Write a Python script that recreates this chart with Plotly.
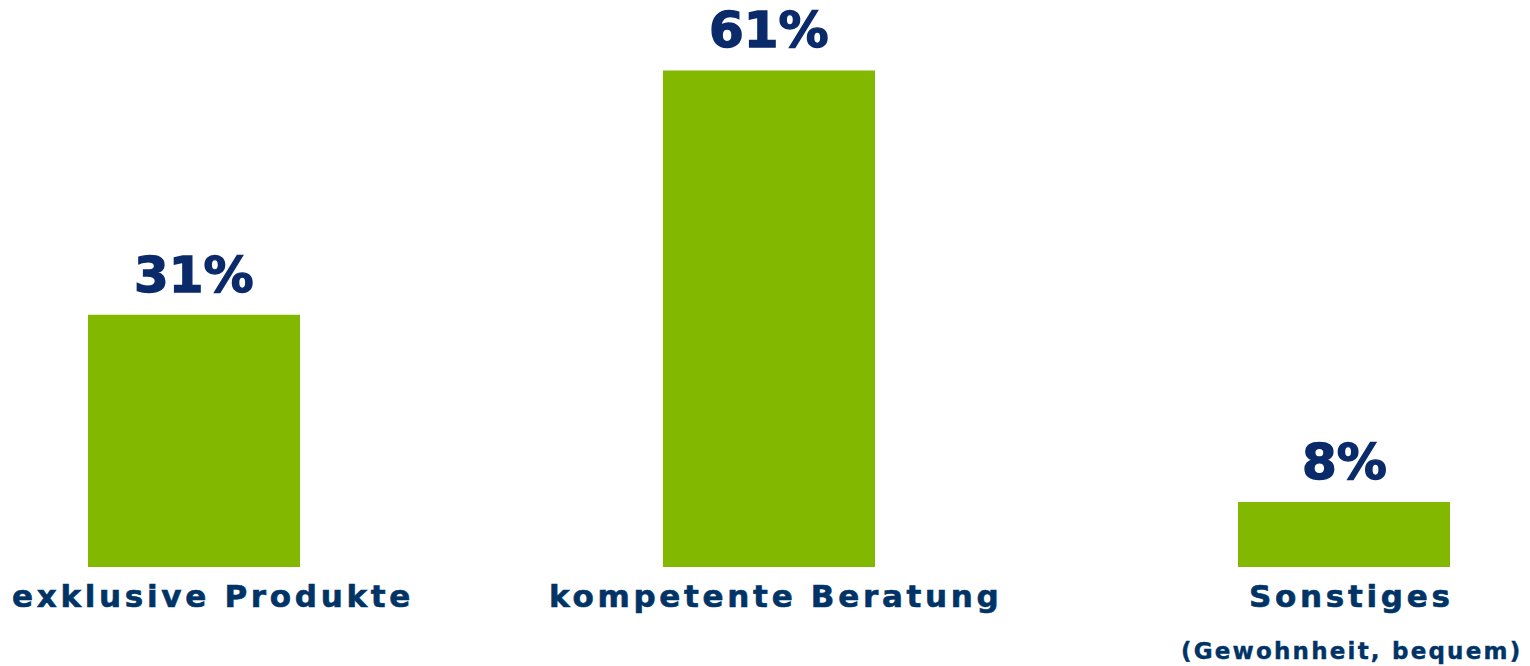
import plotly.graph_objects as go

categories = ["exklusive Produkte", "kompetente Beratung", "Sonstiges"]
sub_labels = ["", "", "(Gewohnheit, bequem)"]
values = [31, 61, 8]
value_labels = ["31%", "61%", "8%"]

GREEN = "#82B800"
NAVY = "#0a2a6a"
LABEL_BLUE = "#003366"

x_pos = list(range(len(categories)))
# labels in the original sit a bit right of the bar centres
label_shift = [19, 6, 7]

fig = go.Figure(
    go.Bar(
        x=x_pos,
        y=values,
        width=0.3687,
        marker=dict(color=GREEN, line=dict(width=0)),
        hoverinfo="skip",
    )
)

for i, (v, txt) in enumerate(zip(values, value_labels)):
    fig.add_annotation(
        x=i, y=v, xref="x", yref="y",
        text='<span style="stroke:' + NAVY + ';stroke-width:1.4px"><b>' + txt + "</b></span>",
        showarrow=False,
        xanchor="center", yanchor="bottom",
        yshift=9,
        font=dict(family="DejaVu Sans", size=50, color=NAVY),
    )

for i, (cat, sub) in enumerate(zip(categories, sub_labels)):
    fig.add_annotation(
        x=i, y=0, xref="x", yref="y",
        text='<span style="letter-spacing:3.7px;stroke:' + LABEL_BLUE
             + ';stroke-width:0.6px"><b>' + cat + "</b></span>",
        showarrow=False,
        xanchor="center", yanchor="top",
        xshift=label_shift[i], yshift=-9,
        font=dict(family="DejaVu Sans", size=31, color=LABEL_BLUE),
    )
    if sub:
        fig.add_annotation(
            x=i, y=0, xref="x", yref="y",
            text='<span style="letter-spacing:2.2px;stroke:' + LABEL_BLUE
                 + ';stroke-width:0.4px"><b>' + sub + "</b></span>",
            showarrow=False,
            xanchor="center", yanchor="top",
            xshift=label_shift[i], yshift=-69,
            font=dict(family="DejaVu Sans", size=23, color=LABEL_BLUE),
        )

fig.update_xaxes(range=[-0.33739, 2.32348], visible=False, fixedrange=True)
fig.update_yaxes(range=[0, 69.66], visible=False, fixedrange=True)
fig.update_layout(
    width=1530, height=666,
    margin=dict(l=0, r=0, t=0, b=99),
    paper_bgcolor="white", plot_bgcolor="white",
    showlegend=False,
)

# drop the browser's default body margin so the figure sits at 0,0
fig.write_html(
    "out.html",
    config={"displayModeBar": False},
    post_script="document.body.style.margin='0px';document.body.style.overflow='hidden';",
)
